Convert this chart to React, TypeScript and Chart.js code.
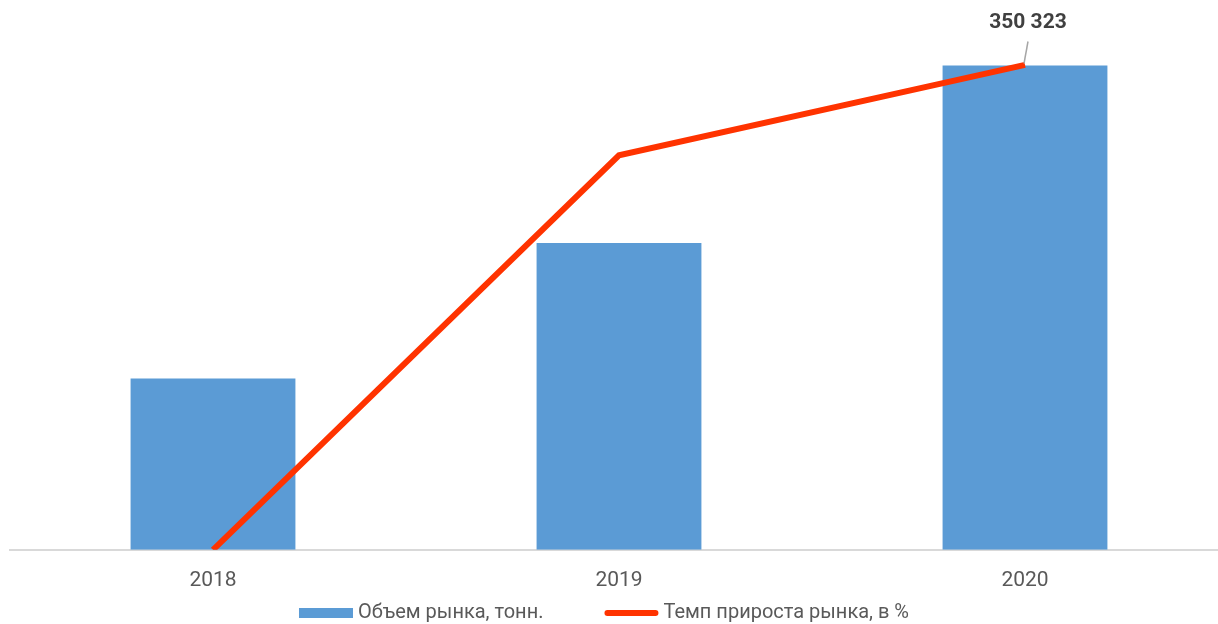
import React, { useEffect, useRef } from "react";
import { Chart, registerables } from "chart.js";

Chart.register(...registerables);

const categories = ["2018", "2019", "2020"];
const marketVolume = [124000, 222000, 350323];
const growthRate = [0, 75.9, 93.3];
const seriesLabels = ["Объем рынка, тонн.", "Темп прироста рынка, в %"];
const labelIndex = 2;

const VOLUME_MAX = 376000;
const GROWTH_MAX = 100;

const BAR_COLOR = "#5B9BD5";
const LINE_COLOR = "#FF3300";
const TEXT_COLOR = "#595959";
const FONT = "Roboto";

const fmt = (v: number) => String(Math.round(v)).replace(/\B(?=(\d{3})+(?!\d))/g, " ");

const labelPlugin = {
  id: "valueLabel",
  afterDatasetsDraw(chart: any) {
    const meta = chart.getDatasetMeta(0);
    const el = meta.data[labelIndex];
    if (!el) return;
    const ctx = chart.ctx;
    ctx.save();
    ctx.strokeStyle = "#A6A6A6";
    ctx.lineWidth = 1.5;
    ctx.beginPath();
    ctx.moveTo(el.x + 3, el.y - 24);
    ctx.lineTo(el.x - 1, el.y - 2);
    ctx.stroke();
    ctx.font = `bold 21px ${FONT}`;
    ctx.fillStyle = "#404040";
    ctx.textAlign = "center";
    ctx.textBaseline = "middle";
    ctx.fillText(fmt(chart.data.datasets[0].data[labelIndex]), el.x + 3, el.y - 43);
    ctx.restore();
  },
};

const legendPlugin = {
  id: "customLegend",
  afterDraw(chart: any) {
    const ctx = chart.ctx;
    ctx.save();
    ctx.font = `20px ${FONT}`;
    const symW = 54;
    const gap = 5;
    const itemGap = 61;
    const ds = chart.data.datasets;
    const widths = ds.map((d: any) => symW + gap + ctx.measureText(d.label).width);
    const total = widths.reduce((a: number, b: number) => a + b, 0) + itemGap * (ds.length - 1);
    let x = 604 - total / 2;
    const y = 613;
    ds.forEach((d: any, i: number) => {
      if (d.type === "line") {
        ctx.strokeStyle = d.borderColor;
        ctx.lineWidth = 6;
        ctx.lineCap = "round";
        ctx.beginPath();
        ctx.moveTo(x + 3, y);
        ctx.lineTo(x + symW - 3, y);
        ctx.stroke();
      } else {
        ctx.fillStyle = d.backgroundColor;
        ctx.fillRect(x, y - 5, symW, 10);
      }
      ctx.fillStyle = TEXT_COLOR;
      ctx.textAlign = "left";
      ctx.textBaseline = "middle";
      ctx.fillText(d.label, x + symW + gap, y);
      x += widths[i] + itemGap;
    });
    ctx.restore();
  },
};

export default function App() {
  const ref = useRef<HTMLCanvasElement>(null);
  useEffect(() => {
    if (!ref.current) return;
    Chart.defaults.font.family = FONT;
    const chart = new Chart(ref.current, {
      data: {
        labels: categories,
        datasets: [
          {
            type: "bar",
            label: seriesLabels[0],
            data: marketVolume,
            backgroundColor: BAR_COLOR,
            yAxisID: "y",
            order: 2,
            barPercentage: 1,
            categoryPercentage: 0.406,
          },
          {
            type: "line",
            label: seriesLabels[1],
            data: growthRate,
            borderColor: LINE_COLOR,
            backgroundColor: LINE_COLOR,
            borderWidth: 6,
            pointRadius: 0,
            tension: 0,
            yAxisID: "y1",
            order: 1,
          },
        ],
      } as any,
      options: {
        responsive: false,
        animation: false,
        devicePixelRatio: 1,
        layout: { padding: { left: 10, right: 0, top: 30, bottom: 13 } },
        plugins: { legend: { display: false }, tooltip: { enabled: false } },
        scales: {
          x: {
            grid: { display: false, drawTicks: false },
            border: { display: true, color: "#D9D9D9", width: 2 },
            ticks: { color: TEXT_COLOR, font: { size: 21, family: FONT }, padding: 18 },
          },
          y: { display: false, min: 0, max: VOLUME_MAX },
          y1: { display: false, min: 0, max: GROWTH_MAX, position: "right" },
        },
      },
      plugins: [labelPlugin, legendPlugin],
    });
    return () => chart.destroy();
  }, []);
  return (
    <div style={{ position: "fixed", left: 0, top: 0, width: 1218, height: 624, overflow: "hidden", background: "#fff" }}>
      <canvas ref={ref} width={1228} height={624} style={{ width: 1228, height: 624, display: "block" }} />
    </div>
  );
}
